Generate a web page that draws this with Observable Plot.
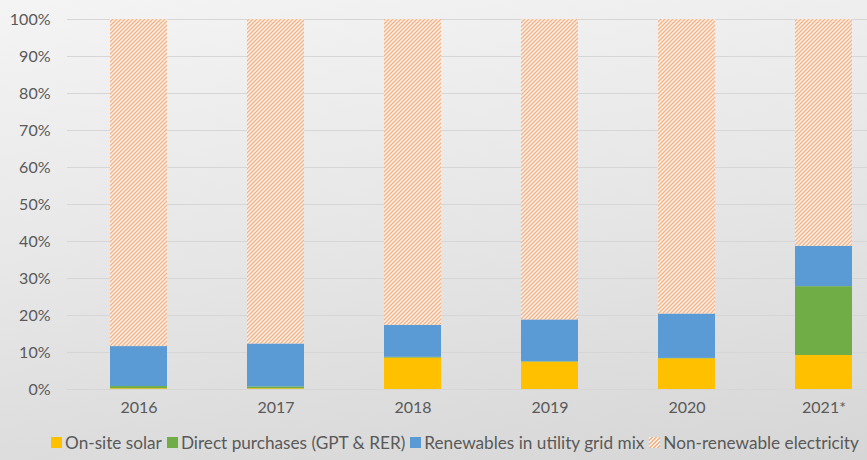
<!DOCTYPE html>
<html><head><meta charset="utf-8">
<script src="https://cdn.jsdelivr.net/npm/d3@7"></script>
<script src="https://cdn.jsdelivr.net/npm/@observablehq/plot@0.6"></script>
<style>
html,body{margin:0;padding:0;}
body{width:867px;height:460px;overflow:hidden;background:linear-gradient(172deg,#f4f4f4 0%,#e6e6e6 50%,#d6d6d6 100%);font-family:Lato,sans-serif;}
#legend{display:flex;justify-content:center;align-items:center;height:35px;font-size:17.2px;color:#595959;white-space:nowrap;padding-left:48px;}
.item{display:flex;align-items:center;margin-right:5px;}
.sw{width:11px;height:11px;margin-right:3px;}
</style></head>
<body>
<svg width="0" height="0" style="position:absolute">
  <defs>
    <pattern id="hatch" patternUnits="userSpaceOnUse" width="4" height="4">
      <rect width="4" height="4" fill="#fbf1e8"></rect>
      <path d="M-1,1 L1,-1 M0,4 L4,0 M3,5 L5,3" stroke="#f4b386" stroke-width="1.3"></path>
    </pattern>
  </defs>
</svg>
<div id="chart"></div>
<div id="legend"></div>
<script>
const years = ["2016", "2017", "2018", "2019", "2020", "2021*"];
const seriesNames = ["On-site solar", "Direct purchases (GPT & RER)", "Renewables in utility grid mix", "Non-renewable electricity"];
const onsiteSolar = [0.2, 0.2, 8.5, 7.4, 8.3, 9.2];
const directPurchases = [0.6, 0.5, 0.2, 0.1, 0.1, 18.6];
const gridMix = [10.8, 11.6, 8.6, 11.3, 12.0, 10.9];
const nonRenewable = [88.4, 87.7, 82.7, 81.2, 79.6, 61.3];
const yTicks = [0, 10, 20, 30, 40, 50, 60, 70, 80, 90, 100];
const colors = ["#ffc000", "#70ad47", "#5b9bd5", "url(#hatch)"];

const seriesValues = [onsiteSolar, directPurchases, gridMix, nonRenewable];
const data = [];
seriesNames.forEach((s, i) => years.forEach((y, j) => data.push({year: y, series: s, value: seriesValues[i][j]})));

const chart = Plot.plot({
  width: 867,
  height: 425,
  marginTop: 19,
  marginBottom: 36,
  marginLeft: 67,
  marginRight: 0,
  style: {background: "transparent", fontFamily: "Lato, sans-serif", fontSize: "16px", color: "#595959", overflow: "visible"},
  x: {domain: years, range: [67, 894], paddingInner: 0.585, paddingOuter: 0.2925, label: null, tickSize: 0, tickPadding: 12},
  y: {domain: [0, 100], ticks: yTicks, tickFormat: d => d + "%", label: null, tickSize: 0, tickPadding: 17},
  color: {domain: seriesNames, range: colors},
  marks: [
    Plot.ruleY(yTicks, {stroke: "#d6d6d6", strokeWidth: 1}),
    Plot.barY(data, {x: "year", y: "value", fill: "series"})
  ]
});
document.getElementById("chart").appendChild(chart);

const legend = d3.select("#legend");
seriesNames.forEach((s, i) => {
  const it = legend.append("div").attr("class", "item");
  it.append("div").attr("class", "sw").style("background", colors[i].startsWith("url") ? "repeating-linear-gradient(-45deg,#fbf1e8 0 1.4px,#f4b386 1.4px 2.8px)" : colors[i]);
  it.append("span").text(s);
});
</script>
</body></html>
